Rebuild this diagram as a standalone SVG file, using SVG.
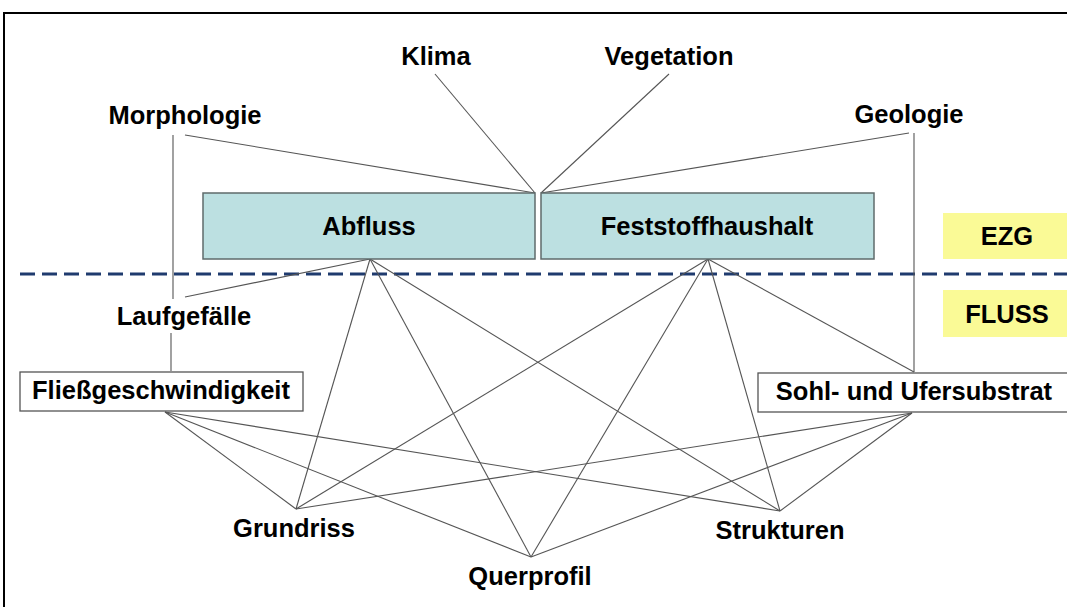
<svg xmlns="http://www.w3.org/2000/svg" width="1067" height="607" viewBox="0 0 1067 607">
<style>
.t{font-family:"Liberation Sans",Arial,sans-serif;font-weight:bold;font-size:25.5px;fill:#000;text-anchor:middle}
.c line{stroke:#555;stroke-width:1.1;fill:none}
.box{fill:#BCE0E1;stroke:#5f6b6b;stroke-width:1.5}
.wbox{fill:#fff;stroke:#555;stroke-width:1.3}
.ybox{fill:#FAFA96}
</style>
<rect x="0" y="0" width="1067" height="607" fill="#fff"/>
<rect x="4" y="13" width="1075" height="610" fill="none" stroke="#000" stroke-width="2"/>
<line x1="20" y1="274" x2="1067" y2="274" stroke="#1F3B6E" stroke-width="3.2" stroke-dasharray="15 7"/>
<g class="c" id="connectors">
<line x1="185" y1="135" x2="535" y2="193"/>
<line x1="435" y1="74" x2="535" y2="193"/>
<line x1="669" y1="74" x2="541" y2="193"/>
<line x1="909" y1="133" x2="541" y2="193"/>
<line x1="173" y1="135" x2="173" y2="299"/>
<line x1="171" y1="333" x2="171" y2="371"/>
<line x1="914" y1="133" x2="914" y2="372"/>
<line x1="370" y1="259" x2="185" y2="297"/>
<line x1="370" y1="259" x2="296" y2="509"/>
<line x1="370" y1="259" x2="531" y2="557"/>
<line x1="370" y1="259" x2="780" y2="511"/>
<line x1="708" y1="259" x2="296" y2="509"/>
<line x1="708" y1="259" x2="531" y2="557"/>
<line x1="708" y1="259" x2="780" y2="511"/>
<line x1="708" y1="259" x2="914" y2="372"/>
<line x1="165" y1="412" x2="296" y2="509"/>
<line x1="165" y1="412" x2="531" y2="557"/>
<line x1="165" y1="412" x2="780" y2="511"/>
<line x1="912" y1="413" x2="296" y2="509"/>
<line x1="912" y1="413" x2="531" y2="557"/>
<line x1="912" y1="413" x2="780" y2="511"/>
</g>
<g id="klima"><text class="t" x="436" y="65">Klima</text></g>
<g id="vegetation"><text class="t" x="669" y="65">Vegetation</text></g>
<g id="morphologie"><text class="t" x="185" y="124">Morphologie</text></g>
<g id="geologie"><text class="t" x="909" y="123">Geologie</text></g>
<g id="abfluss"><rect class="box" x="203" y="193" width="332" height="66"/><text class="t" x="369" y="235">Abfluss</text></g>
<g id="feststoffhaushalt"><rect class="box" x="541" y="193" width="333" height="66"/><text class="t" x="707" y="235">Feststoffhaushalt</text></g>
<g id="ezg"><rect class="ybox" x="943" y="213" width="130" height="46"/><text class="t" x="1007" y="245">EZG</text></g>
<g id="fluss"><rect class="ybox" x="943" y="290" width="130" height="47"/><text class="t" x="1007" y="323">FLUSS</text></g>
<g id="laufgefaelle"><text class="t" x="184" y="325">Laufgefälle</text></g>
<g id="fliessgeschwindigkeit"><rect class="wbox" x="20" y="372" width="283" height="39"/><text class="t" x="161" y="399">Fließgeschwindigkeit</text></g>
<g id="sohlsubstrat"><rect class="wbox" x="758" y="373" width="320" height="39"/><text class="t" x="914" y="400">Sohl- und Ufersubstrat</text></g>
<g id="grundriss"><text class="t" x="294" y="537">Grundriss</text></g>
<g id="strukturen"><text class="t" x="780" y="539">Strukturen</text></g>
<g id="querprofil"><text class="t" x="530" y="585">Querprofil</text></g>
</svg>
